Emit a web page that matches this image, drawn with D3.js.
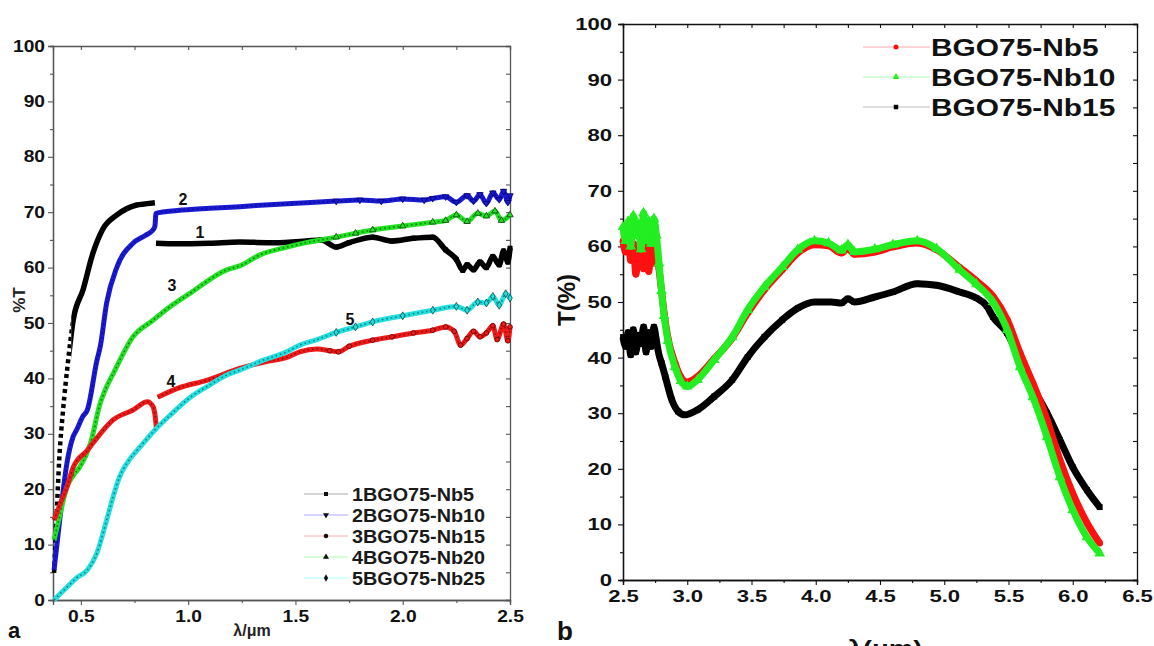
<!DOCTYPE html>
<html><head><meta charset="utf-8">
<script src="https://cdn.jsdelivr.net/npm/d3@7"></script>
<style>
body{margin:0;background:#fff;}
text{font-family:"Liberation Sans",Arial,sans-serif;font-weight:bold;}
</style></head>
<body><svg id="c" width="1154" height="646"></svg>
<script>
// ---------- Panel a data ----------
const aXTicks = [0.5, 1.0, 1.5, 2.0, 2.5];
const aYTicks = [0, 10, 20, 30, 40, 50, 60, 70, 80, 90, 100];
const aNames = ["1BGO75-Nb5", "2BGO75-Nb10", "3BGO75-Nb15", "4BGO75-Nb20", "5BGO75-Nb25"];

const a1Lambda = [0.375,0.386,0.399,0.417,0.44,0.464,0.51,0.556,0.60,0.668,0.76,0.80,0.845,null,0.85,0.95,1.1,1.24,1.4,1.55,1.62,1.69,1.75,1.86,1.95,2.05,2.14,2.2,2.25,2.28,2.30,2.33,2.36,2.39,2.42,2.45,2.47,2.49,2.5];
const a1T      = [4.9,14.4,25.3,34.3,43,50.5,56,62.6,66.8,69.5,71.3,71.5,71.7,null,64.4,64.3,64.4,64.6,64.5,64.8,65,63.7,64.5,65.5,64.8,65.3,65.5,63.2,61.5,59.5,60.5,59.6,61,60,62,60.5,63,61,63.5];

const a2Lambda = [0.375,0.40,0.435,0.463,0.48,0.51,0.53,0.575,0.59,0.62,0.668,0.743,0.80,0.836,0.845,0.85,0.95,1.1,1.24,1.4,1.55,1.69,1.8,1.9,2.0,2.1,2.14,2.2,2.25,2.3,2.33,2.36,2.39,2.42,2.45,2.47,2.49,2.5];
const a2T      = [5.4,14,24.7,29.4,30.7,33.2,34.3,43.3,45.7,53.6,60.1,64.4,65.8,66.8,67.5,69.8,70.3,70.7,71,71.4,71.7,72,72.2,72,72.4,72.2,72.5,72.8,71.8,73,72,73.2,71.6,73.5,72.3,73.8,71.8,73];

const a3Lambda = [0.375,0.40,0.435,0.465,0.495,0.545,0.59,0.62,0.65,0.743,0.836,0.9,1.01,1.18,1.24,1.335,1.46,1.55,1.69,1.78,1.86,2.0,2.14,2.2,2.25,2.3,2.35,2.39,2.43,2.46,2.5];
const a3T      = [10.8,15,20.4,22.5,24,28.3,35.5,38.5,40.8,47.5,50.5,52.5,55.4,59.6,60.3,62.3,63.7,64.5,65.5,66.2,66.8,67.5,68.2,68.5,69.5,68.3,69.8,69.3,70.2,68.5,69.5];

const a4Lambda = [0.375,0.40,0.435,0.465,0.53,0.59,0.65,0.743,0.81,0.835,0.845,0.852,null,0.858,0.95,1.09,1.24,1.36,1.46,1.52,1.6,1.66,1.7,1.75,1.86,1.95,2.05,2.14,2.2,2.24,2.27,2.3,2.33,2.36,2.39,2.42,2.44,2.47,2.49,2.5];
const a4T      = [14.4,17,20.4,24,27,30,32.5,34.3,35.8,35,33.5,31,null,36.6,38.2,39.7,41.8,43,43.8,44.8,45.3,45,44.8,45.8,46.9,47.5,48.2,48.7,49.3,48.5,46,47.2,48.5,47.5,48.2,49.5,47,49.8,46.8,49.3];

const a5Lambda = [0.375,0.40,0.435,0.48,0.53,0.575,0.62,0.65,0.68,0.72,0.775,0.845,0.92,1.01,1.1,1.18,1.24,1.35,1.46,1.52,1.6,1.69,1.78,1.86,2.0,2.14,2.25,2.3,2.35,2.39,2.42,2.45,2.48,2.5];
const a5T      = [0,1,2.3,4,5.4,8.5,14.4,18.6,22.2,25,27.6,30.7,33.5,36.6,38.8,40.6,41.5,43.3,44.8,46,47,48.3,49.3,50.2,51.3,52.3,53,52.3,53.8,53.6,54.8,53.2,55.3,54.5];

const aCurveLabels = ["1", "2", "3", "4", "5"];
const aLabelLambda = [1.055, 0.976, 0.924, 0.92, 1.754];
const aLabelT = [65.3, 71.3, 55.8, 38.4, 49.6];

// ---------- Panel b data ----------
const bXTicks = [2.5, 3.0, 3.5, 4.0, 4.5, 5.0, 5.5, 6.0, 6.5];
const bYTicks = [0, 10, 20, 30, 40, 50, 60, 70, 80, 90, 100];
const bNames = ["BGO75-Nb5", "BGO75-Nb10", "BGO75-Nb15"];

const bRedLambda = [2.50,2.52,2.54,2.56,2.58,2.60,2.62,2.64,2.66,2.68,2.70,2.72,2.74,2.76,2.78,2.80,2.82,2.85,2.905,2.95,3.0,3.08,3.21,3.35,3.47,3.6,3.74,3.86,3.99,4.1,4.2,4.25,4.3,4.46,4.6,4.79,4.94,5.12,5.25,5.38,5.49,5.59,5.69,5.8,5.9,6.0,6.11,6.21];
const bRedT      = [61,59,61.5,57.5,60.5,55,59,61,56,60,55.5,59.5,57,60,56,52,48,43.5,39,36.5,35.6,36.6,39.8,43.5,48,52.2,55.8,58.8,60.3,60.1,58.8,59.6,58.6,59,59.9,60.6,59.4,56.2,53.8,51,46.8,40.8,35.4,28.8,21.6,15.6,10.3,6.6];

const bGreenLambda = [2.50,2.52,2.54,2.56,2.58,2.60,2.62,2.64,2.66,2.68,2.70,2.72,2.74,2.76,2.78,2.80,2.82,2.85,2.905,2.95,3.0,3.08,3.21,3.35,3.47,3.6,3.74,3.86,3.99,4.1,4.2,4.25,4.3,4.46,4.6,4.79,4.94,5.12,5.25,5.38,5.49,5.59,5.69,5.8,5.9,6.0,6.11,6.21];
const bGreenT      = [63.5,61,64.5,60,65.5,62,64,59.5,66,61,64.5,60.5,65,62,57,52,47.5,43,38.3,35.8,34.8,36,39.6,43.7,48.6,52.7,56.3,59.4,61,60.6,59.3,60.3,59,59.5,60.3,61,59.6,55.8,53.2,50,45,38.3,32.9,25.7,18.5,12.6,7.7,4.8];

const bBlackLambda = [2.50,2.52,2.54,2.56,2.58,2.60,2.62,2.64,2.66,2.68,2.70,2.72,2.74,2.76,2.78,2.80,2.83,2.88,2.93,2.98,3.08,3.21,3.35,3.47,3.6,3.74,3.86,3.99,4.12,4.2,4.25,4.3,4.46,4.6,4.79,4.94,5.12,5.25,5.33,5.38,5.49,5.59,5.69,5.8,5.9,6.0,6.11,6.21];
const bBlackT      = [43.7,42,44.5,40.5,45,41,44,42.5,45.5,41,44.5,42,45.5,43,40.5,39,36.5,32.4,30.3,29.7,30.6,33,36,40.1,43.7,46.8,48.9,50,50,49.8,50.6,50,50.9,51.8,53.3,53,51.8,50.7,49.3,47.3,44.4,39.6,34.7,30,25.2,20.3,16.2,13.1];

// ---------- drawing ----------
const svg = d3.select("#c");
const zip = (xs, ys) => xs.map((x, i) => ({x: x, y: ys[i]}));
const defs = svg.append("defs");

function styleTicks(sel, fs, sx, isLeft, gap) {
  sel.selectAll("text")
    .attr("font-size", fs).attr("fill", "#111")
    .attr("font-family", "Liberation Sans").attr("font-weight", "bold")
    .attr("transform", `scale(${sx},1)`);
  if (isLeft) sel.selectAll("text").attr("x", -gap / sx);
}

function frame(g, x, y, xTicks, xMinor, yTicks, yMinor, color, fs, sx, xPad, yGap) {
  const [x0, x1] = x.range(), [y0, y1] = y.range();
  const fmt1 = d3.format(".1f");
  g.append("g").attr("transform", `translate(0,${y0})`)
    .call(d3.axisBottom(x).tickValues(xTicks).tickSize(5).tickPadding(xPad).tickFormat(fmt1))
    .call(s => styleTicks(s, fs, sx, false));
  g.append("g").attr("transform", `translate(0,${y0})`)
    .call(d3.axisBottom(x).tickValues(xMinor).tickSize(3).tickFormat(""));
  g.append("g").attr("transform", `translate(${x0},0)`)
    .call(d3.axisLeft(y).tickValues(yTicks).tickSize(5).tickPadding(4))
    .call(s => styleTicks(s, fs, sx, true, yGap));
  g.append("g").attr("transform", `translate(${x0},0)`)
    .call(d3.axisLeft(y).tickValues(yMinor).tickSize(3).tickFormat(""));
  g.append("g").attr("transform", `translate(0,${y1})`)
    .call(d3.axisTop(x).tickValues(xTicks.concat(xMinor)).tickSize(-4).tickFormat(""));
  g.append("g").attr("transform", `translate(${x1},0)`)
    .call(d3.axisRight(y).tickValues(yTicks.concat(yMinor)).tickSize(-4).tickFormat(""));
  g.selectAll(".domain").attr("stroke", color).attr("stroke-width", 1.3);
  g.selectAll(".tick line").attr("stroke", color).attr("stroke-width", 1.1);
}

// ===== Panel a =====
const xa = d3.scaleLinear().domain([0.37, 2.5]).range([53, 510]);
const ya = d3.scaleLinear().domain([0, 100]).range([600, 46]);
const ga = svg.append("g");
frame(ga, xa, ya, aXTicks, [0.75, 1.25, 1.75, 2.25], aYTicks, aYTicks.slice(0, -1).map(v => v + 5), "#555", 16, 1.2, 6, 8);

// clip regions for black's steep (dotted) start
const cutX = xa(0.455);
defs.append("clipPath").attr("id", "aLow").append("rect").attr("x", 0).attr("y", 0).attr("width", cutX).attr("height", 646);
defs.append("clipPath").attr("id", "aHigh").append("rect").attr("x", cutX).attr("y", 0).attr("width", 1154).attr("height", 646);

const aSeries = [
  {l: a1Lambda, t: a1T, c: "#000000", d: "#000000", sym: d3.symbolSquare, rot: 0},
  {l: a2Lambda, t: a2T, c: "#1a1ad0", d: "#00006a", sym: d3.symbolTriangle, rot: 180},
  {l: a3Lambda, t: a3T, c: "#22e022", d: "#0a3a0a", sym: d3.symbolTriangle, rot: 0},
  {l: a4Lambda, t: a4T, c: "#ee1a1a", d: "#5a0000", sym: d3.symbolCircle, rot: 0},
  {l: a5Lambda, t: a5T, c: "#22dede", d: "#0a4a4a", sym: d3.symbolDiamond, rot: 0}
];
const lineA = d3.line().defined(d => d.x != null && d.y != null)
  .x(d => xa(d.x)).y(d => ya(d.y)).curve(d3.curveMonotoneX);
aSeries.forEach((s, i) => {
  const pts = zip(s.l, s.t);
  if (i === 0) {
    ga.append("path").datum(pts).attr("d", lineA).attr("fill", "none").attr("clip-path", "url(#aLow)")
      .attr("stroke", s.c).attr("stroke-width", 4.5).attr("stroke-dasharray", "4,3.5");
    ga.append("path").datum(pts).attr("d", lineA).attr("fill", "none").attr("clip-path", "url(#aHigh)")
      .attr("stroke", s.c).attr("stroke-width", 5.5).attr("stroke-linejoin", "round");
  } else {
    ga.append("path").datum(pts).attr("d", lineA).attr("fill", "none")
      .attr("stroke", s.c).attr("stroke-width", 5).attr("stroke-linejoin", "round");
    ga.append("path").datum(pts).attr("d", lineA).attr("fill", "none")
      .attr("stroke", s.d).attr("stroke-width", 1.6).attr("stroke-dasharray", "1.5,3").attr("opacity", 0.65);
  }
  ga.selectAll(null).data(pts.filter(p => p.x != null && p.x > 1.6)).enter().append("path")
    .attr("d", d3.symbol().type(s.sym).size(18)())
    .attr("transform", p => `translate(${xa(p.x)},${ya(p.y)}) rotate(${s.rot})`)
    .attr("fill", s.c).attr("stroke", s.d).attr("stroke-width", 0.8);
});
// curve labels
aCurveLabels.forEach((t, i) => {
  ga.append("text").attr("x", xa(aLabelLambda[i])).attr("y", ya(aLabelT[i]))
    .attr("text-anchor", "middle").attr("font-size", 16).attr("fill", "#111").text(t);
});
// legend a
const aLegC = ["#aaaaaa", "#aaaaff", "#ffaaaa", "#aaffaa", "#aaffff"];
const aLegSym = [d3.symbolSquare, d3.symbolTriangle, d3.symbolCircle, d3.symbolTriangle, d3.symbolDiamond];
const aLegRot = [0, 180, 0, 0, 0];
aNames.forEach((n, i) => {
  const yy = 494 + i * 21;
  ga.append("line").attr("x1", 304).attr("x2", 348).attr("y1", yy).attr("y2", yy).attr("stroke", aLegC[i]).attr("stroke-width", 1);
  ga.append("path").attr("d", d3.symbol().type(aLegSym[i]).size(16)())
    .attr("transform", `translate(326,${yy}) rotate(${aLegRot[i]})`).attr("fill", "#111");
  ga.append("text").attr("transform", `translate(352,${yy + 6.5}) scale(1.1,1)`)
    .attr("font-size", 18).attr("fill", "#1a1a1a").text(n);
});
ga.append("text").attr("x", 252).attr("y", 636).attr("text-anchor", "middle").attr("font-size", 16).attr("fill", "#222").text("λ/μm");
ga.append("text").attr("transform", "translate(25,300) rotate(-90)").attr("text-anchor", "middle").attr("font-size", 17).attr("fill", "#222").text("%T");
ga.append("text").attr("x", 8).attr("y", 638).attr("font-size", 22).attr("font-family", "Liberation Serif").attr("fill", "#111").text("a");

// ===== Panel b =====
const xb = d3.scaleLinear().domain([2.5, 6.5]).range([623, 1137]);
const yb = d3.scaleLinear().domain([0, 100]).range([580, 24]);
const gb = svg.append("g");
frame(gb, xb, yb, bXTicks, bXTicks.slice(0, -1).map(v => v + 0.25), bYTicks, bYTicks.slice(0, -1).map(v => v + 5), "#111", 17, 1.3, 5, 11);

const lineB = d3.line().x(d => xb(d.x)).y(d => yb(d.y)).curve(d3.curveMonotoneX);
const bSeries = [
  {l: bBlackLambda, t: bBlackT, c: "#000000", sym: d3.symbolSquare, sz: 34},
  {l: bRedLambda, t: bRedT, c: "#ff1010", sym: d3.symbolCircle, sz: 34},
  {l: bGreenLambda, t: bGreenT, c: "#22ee22", sym: d3.symbolTriangle, sz: 50}
];
bSeries.forEach(s => {
  const pts = zip(s.l, s.t);
  gb.append("path").datum(pts).attr("d", lineB).attr("fill", "none")
    .attr("stroke", s.c).attr("stroke-width", 7).attr("stroke-linejoin", "round");
  gb.selectAll(null).data(pts).enter().append("path")
    .attr("d", d3.symbol().type(s.sym).size(s.sz)())
    .attr("transform", d => `translate(${xb(d.x)},${yb(d.y)})`).attr("fill", s.c);
});
// legend b
const bLegC = ["#ffaaaa", "#aaffaa", "#bbbbbb"];
const bLegFill = ["#ff1010", "#22ee22", "#000000"];
const bLegSym = [d3.symbolCircle, d3.symbolTriangle, d3.symbolSquare];
bNames.forEach((n, i) => {
  const yy = 47 + i * 30;
  gb.append("line").attr("x1", 863).attr("x2", 930).attr("y1", yy).attr("y2", yy).attr("stroke", bLegC[i]).attr("stroke-width", 1);
  gb.append("path").attr("d", d3.symbol().type(bLegSym[i]).size(20)())
    .attr("transform", `translate(896,${yy})`).attr("fill", bLegFill[i]);
  gb.append("text").attr("transform", `translate(931,${yy + 8.5}) scale(1.3,1)`)
    .attr("font-size", 23).attr("fill", "#111").text(n);
});
gb.append("text").attr("transform", "translate(885,656) scale(1.25,1)").attr("text-anchor", "middle").attr("font-size", 22).attr("fill", "#111").text("λ(μm)");
gb.append("text").attr("transform", "translate(575,300) rotate(-90)").attr("text-anchor", "middle").attr("font-size", 24).attr("fill", "#111").text("T(%)");
gb.append("text").attr("x", 557).attr("y", 640).attr("font-size", 26).attr("fill", "#111").text("b");
</script></body></html>
